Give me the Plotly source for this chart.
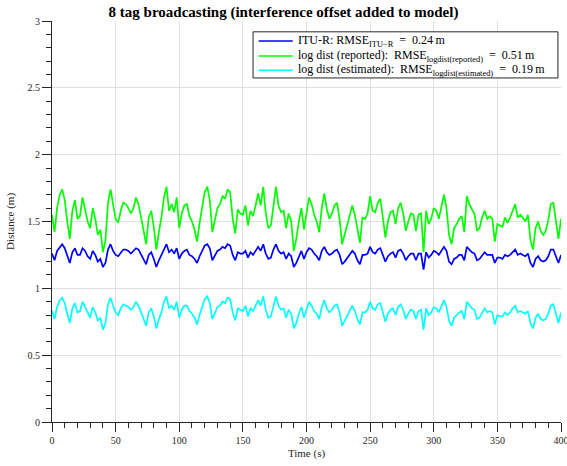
import plotly.graph_objects as go

# time samples (s)
time_s = list(range(0, 401, 2))

itu_r = [
    1.26, 1.21, 1.28, 1.31, 1.33, 1.30, 1.24, 1.19, 1.27, 1.30,
    1.25, 1.25, 1.30, 1.28, 1.24, 1.22, 1.28, 1.25, 1.20, 1.22,
    1.16, 1.19, 1.29, 1.33, 1.28, 1.25, 1.24, 1.27, 1.29, 1.29,
    1.28, 1.26, 1.28, 1.30, 1.29, 1.25, 1.21, 1.18, 1.25, 1.27,
    1.22, 1.16, 1.21, 1.25, 1.30, 1.33, 1.27, 1.29, 1.26, 1.30,
    1.22, 1.26, 1.28, 1.29, 1.25, 1.24, 1.22, 1.19, 1.24, 1.28,
    1.32, 1.33, 1.30, 1.21, 1.25, 1.28, 1.29, 1.31, 1.30, 1.33,
    1.32, 1.25, 1.21, 1.27, 1.26, 1.26, 1.28, 1.23, 1.27, 1.25,
    1.28, 1.31, 1.28, 1.33, 1.26, 1.22, 1.23, 1.29, 1.33, 1.28,
    1.26, 1.27, 1.22, 1.26, 1.24, 1.16, 1.19, 1.24, 1.28, 1.22,
    1.27, 1.30, 1.29, 1.26, 1.24, 1.21, 1.28, 1.31, 1.27, 1.25,
    1.26, 1.28, 1.29, 1.25, 1.18, 1.20, 1.23, 1.26, 1.28, 1.26,
    1.21, 1.18, 1.25, 1.25, 1.26, 1.31, 1.27, 1.26, 1.29, 1.30,
    1.25, 1.20, 1.24, 1.26, 1.27, 1.23, 1.28, 1.29, 1.26, 1.21,
    1.24, 1.26, 1.26, 1.21, 1.26, 1.26, 1.14, 1.27, 1.23, 1.25,
    1.28, 1.27, 1.25, 1.28, 1.31, 1.28, 1.20, 1.18, 1.22, 1.23,
    1.25, 1.25, 1.21, 1.31, 1.29, 1.27, 1.26, 1.21, 1.22, 1.25,
    1.27, 1.25, 1.25, 1.25, 1.19, 1.23, 1.23, 1.22, 1.25, 1.24,
    1.25, 1.27, 1.29, 1.25, 1.26, 1.25, 1.24, 1.26, 1.19, 1.16,
    1.22, 1.24, 1.21, 1.20, 1.21, 1.24, 1.29, 1.29, 1.24, 1.19,
    1.25,
]

logdist_reported = [
    1.55, 1.42, 1.60, 1.70, 1.74, 1.66, 1.50, 1.37, 1.58, 1.66,
    1.52, 1.54, 1.68, 1.60, 1.50, 1.45, 1.60, 1.52, 1.40, 1.44,
    1.27, 1.36, 1.64, 1.74, 1.62, 1.52, 1.49, 1.58, 1.64, 1.63,
    1.60, 1.56, 1.60, 1.68, 1.63, 1.52, 1.43, 1.33, 1.53, 1.58,
    1.46, 1.29, 1.42, 1.53, 1.68, 1.76, 1.58, 1.63, 1.57, 1.68,
    1.45, 1.56, 1.62, 1.63, 1.54, 1.50, 1.44, 1.35, 1.49, 1.60,
    1.72, 1.76, 1.66, 1.42, 1.52, 1.60, 1.63, 1.69, 1.67, 1.74,
    1.72, 1.52, 1.41, 1.59, 1.56, 1.55, 1.62, 1.47, 1.58, 1.54,
    1.62, 1.71, 1.62, 1.76, 1.56, 1.45, 1.47, 1.63, 1.76, 1.62,
    1.57, 1.58, 1.45, 1.56, 1.50, 1.28, 1.37, 1.50, 1.60, 1.44,
    1.58, 1.68, 1.63, 1.55, 1.50, 1.42, 1.60, 1.71, 1.59, 1.52,
    1.56, 1.62, 1.64, 1.52, 1.33, 1.40, 1.48, 1.55, 1.62, 1.55,
    1.43, 1.34, 1.53, 1.52, 1.56, 1.69, 1.58, 1.57, 1.64, 1.67,
    1.53, 1.38, 1.50, 1.57, 1.58, 1.48, 1.60, 1.64, 1.56, 1.43,
    1.50, 1.56, 1.55, 1.43, 1.55, 1.56, 1.27, 1.58, 1.48, 1.52,
    1.60, 1.58, 1.52, 1.61, 1.70, 1.60, 1.40, 1.33, 1.45, 1.48,
    1.52, 1.54, 1.42, 1.69, 1.63, 1.59, 1.56, 1.43, 1.45, 1.53,
    1.58, 1.52, 1.54, 1.52, 1.35, 1.48, 1.47, 1.46, 1.53, 1.49,
    1.53, 1.58, 1.63, 1.53, 1.55, 1.53, 1.50, 1.55, 1.36, 1.29,
    1.45, 1.50, 1.43, 1.40, 1.43, 1.51, 1.63, 1.64, 1.49, 1.37,
    1.52,
]

logdist_estimated = [
    0.83, 0.77, 0.86, 0.91, 0.93, 0.89, 0.81, 0.74, 0.85, 0.89,
    0.82, 0.83, 0.90, 0.86, 0.81, 0.78, 0.86, 0.82, 0.76, 0.78,
    0.69, 0.74, 0.88, 0.93, 0.87, 0.82, 0.80, 0.85, 0.88, 0.87,
    0.86, 0.84, 0.86, 0.90, 0.87, 0.82, 0.77, 0.72, 0.82, 0.85,
    0.79, 0.70, 0.77, 0.82, 0.90, 0.94, 0.85, 0.87, 0.84, 0.90,
    0.78, 0.84, 0.87, 0.87, 0.83, 0.81, 0.78, 0.73, 0.80, 0.86,
    0.92, 0.94, 0.89, 0.77, 0.82, 0.86, 0.87, 0.90, 0.89, 0.93,
    0.92, 0.82, 0.76, 0.85, 0.84, 0.83, 0.87, 0.79, 0.85, 0.83,
    0.87, 0.91, 0.87, 0.94, 0.84, 0.78, 0.79, 0.87, 0.94, 0.87,
    0.84, 0.85, 0.78, 0.84, 0.81, 0.70, 0.74, 0.81, 0.86, 0.78,
    0.85, 0.90, 0.87, 0.83, 0.81, 0.77, 0.86, 0.91, 0.85, 0.82,
    0.84, 0.87, 0.88, 0.82, 0.72, 0.76, 0.80, 0.83, 0.87, 0.83,
    0.77, 0.73, 0.82, 0.82, 0.84, 0.90, 0.85, 0.84, 0.88, 0.89,
    0.82, 0.75, 0.81, 0.84, 0.85, 0.80, 0.86, 0.88, 0.84, 0.77,
    0.81, 0.84, 0.83, 0.77, 0.83, 0.84, 0.69, 0.85, 0.80, 0.82,
    0.86, 0.85, 0.82, 0.86, 0.91, 0.86, 0.76, 0.72, 0.78, 0.80,
    0.82, 0.83, 0.77, 0.90, 0.87, 0.85, 0.84, 0.77, 0.78, 0.82,
    0.85, 0.82, 0.83, 0.82, 0.73, 0.80, 0.79, 0.79, 0.82, 0.80,
    0.82, 0.85, 0.87, 0.82, 0.83, 0.82, 0.81, 0.83, 0.74, 0.70,
    0.78, 0.81, 0.77, 0.76, 0.77, 0.81, 0.87, 0.88, 0.80, 0.74,
    0.82,
]

series_names = [
    "ITU-R: RMSE<sub>ITU\u2212R</sub>  =  0.24\u2009m",
    "log dist (reported):  RMSE<sub>logdist(reported)</sub>  =  0.51\u2009m",
    "log dist (estimated):  RMSE<sub>logdist(estimated)</sub>  =  0.19\u2009m",
]
series_colors = ["#0000ff", "#00ff00", "#00ffff"]

x_ticks = [0, 50, 100, 150, 200, 250, 300, 350, 400]
y_ticks = [0, 0.5, 1, 1.5, 2, 2.5, 3]
y_tick_labels = ["0", "0.5", "1", "1.5", "2", "2.5", "3"]

FONT = "Liberation Serif"

fig = go.Figure()
for name, vals, col in zip(series_names, [itu_r, logdist_reported, logdist_estimated], series_colors):
    fig.add_trace(go.Scatter(x=time_s, y=vals, mode="lines", name=name,
                             line=dict(color=col, width=1.7), showlegend=False))

# legend drawn as box + line samples + texts (tight row spacing like the reference)
leg_x0, leg_x1, leg_y0, leg_y1 = 0.395, 0.994, 0.858, 0.973
row_y = [0.950, 0.913, 0.877]
shapes = [dict(type="rect", xref="paper", yref="paper", x0=leg_x0, x1=leg_x1, y0=leg_y0, y1=leg_y1,
               fillcolor="white", line=dict(color="#262626", width=1), layer="above")]
annotations = []
for name, col, ry in zip(series_names, series_colors, row_y):
    shapes.append(dict(type="line", xref="paper", yref="paper", x0=0.406, x1=0.473, y0=ry, y1=ry,
                       line=dict(color=col, width=1.5), layer="above"))
    annotations.append(dict(text=name, xref="paper", yref="paper", x=0.479, y=ry,
                            xanchor="left", yanchor="middle", showarrow=False,
                            font=dict(family=FONT, size=12, color="#000000")))

fig.update_layout(
    width=567, height=466,
    margin=dict(l=52, r=6, t=21, b=44),
    paper_bgcolor="white", plot_bgcolor="white",
    font=dict(family=FONT, size=10, color="#262626"),
    title=dict(text="<b>8 tag broadcasting (interference offset added to model)</b>",
               x=0.5, xanchor="center", xref="container", y=0.985, yanchor="top",
               font=dict(family=FONT, size=15, color="#000000")),
    showlegend=False,
    shapes=shapes,
    annotations=annotations,
)

fig.update_xaxes(
    range=[0, 400], tickvals=x_ticks, ticks="outside", ticklen=9, tickcolor="#262626",
    ticklabeloverflow="allow", automargin=False,
    showline=True, linecolor="#262626", linewidth=1, mirror=False,
    showgrid=True, gridcolor="#e0e0e0", gridwidth=1, zeroline=False,
    minor=dict(dtick=10, ticks="outside", ticklen=5, tickcolor="#262626", showgrid=False),
    title=dict(text="Time (s)", font=dict(family=FONT, size=11, color="#262626"), standoff=4),
)
fig.update_yaxes(
    range=[0, 3], tickvals=y_ticks, ticktext=y_tick_labels, ticks="outside", ticklen=9,
    tickcolor="#262626", automargin=False,
    showline=True, linecolor="#262626", linewidth=1, mirror=False,
    showgrid=True, gridcolor="#e0e0e0", gridwidth=1, zeroline=False,
    minor=dict(dtick=0.1, ticks="outside", ticklen=5, tickcolor="#262626", showgrid=False),
    title=dict(text="Distance (m)", font=dict(family=FONT, size=11, color="#262626"), standoff=10),
)

fig.write_html("out.html", config={"displayModeBar": False},
               post_script="document.body.style.margin='0px';")
